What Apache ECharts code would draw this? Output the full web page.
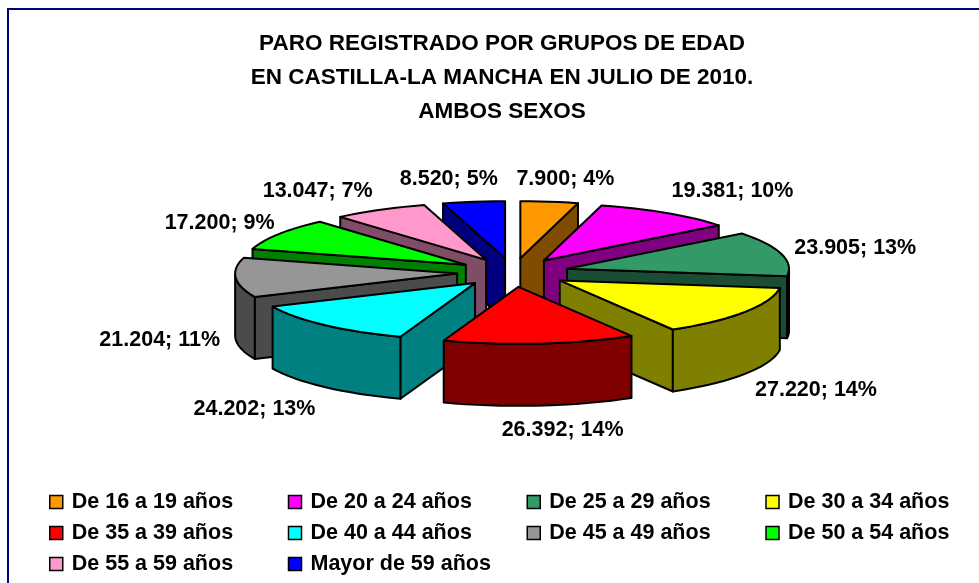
<!DOCTYPE html>
<html><head><meta charset="utf-8">
<style>html,body{margin:0;padding:0;background:#fff}#c{width:979px;height:583px}</style>
<script src="https://cdn.jsdelivr.net/npm/echarts@6/dist/echarts.min.js"></script>
</head><body><div id="c"></div>
<script>
const categories = ['De 16 a 19 años','De 20 a 24 años','De 25 a 29 años','De 30 a 34 años','De 35 a 39 años','De 40 a 44 años','De 45 a 49 años','De 50 a 54 años','De 55 a 59 años','Mayor de 59 años'];
const values = [7900,19381,23905,27220,26392,24202,21204,17200,13047,8520];
const percentLabels = ['4%','10%','13%','14%','14%','13%','11%','9%','7%','5%'];
const colors = ['#FF9900','#FF00FF','#339966','#FFFF00','#FF0000','#00FFFF','#969696','#00FF00','#FF99CC','#0000FF'];
const labelNudges = [[16,-23],[66,-22],[74,-6],[71,78],[23,86],[-70,84],[-76,63],[-59,-11],[-62,-19],[-25,-23]];

const CX=513, CY=272.5, R=222, TILT=0.257, EXPLODE=56, DEPTH=62, STEP=3;
const total = values.reduce((a,b)=>a+b,0);
const rad = d => d*Math.PI/180;
const proj = (ox,oy,r,deg) => [ox + r*Math.sin(rad(deg)), oy - r*TILT*Math.cos(rad(deg))];
function shade(hex){
  const n=parseInt(hex.slice(1),16);
  const c=[n>>16&255,n>>8&255,n&255].map(v=>Math.round(v/2));
  return `rgb(${c[0]},${c[1]},${c[2]})`;
}
function fmtThousands(v){ return String(v).replace(/\B(?=(\d{3})+$)/g,'.'); }
let cum=0;
const slices = values.map((v,i)=>{
  const a0=cum/total*360; cum+=v; const a1=cum/total*360;
  return {i,a0,a1,mid:(a0+a1)/2};
});
function arc(ox,oy,a0,a1){
  const pts=[]; const n=Math.max(1,Math.ceil((a1-a0)/STEP));
  for(let k=0;k<=n;k++) pts.push(proj(ox,oy,R,a0+(a1-a0)*k/n));
  return pts;
}
const LINE={stroke:'#000',lineWidth:2,lineJoin:'round'};
function sliceRender(s){
  return function(){
    const color=colors[s.i], dark=shade(color);
    const [ax,ay]=proj(CX,CY,EXPLODE,s.mid);
    const down=p=>[p[0],p[1]+DEPTH];
    const children=[];
    const poly=(points,fill)=>children.push({type:'polygon',shape:{points},style:Object.assign({fill},LINE),silent:true});
    const radial=deg=>{const e=proj(ax,ay,R,deg);poly([[ax,ay],e,down(e),[ax,ay+DEPTH]],dark);};
    if(s.a1<180) radial(s.a1);
    if(s.a0>=180) radial(s.a0);
    const r0=Math.max(s.a0,90), r1=Math.min(s.a1,270);
    if(r1>r0){const t=arc(ax,ay,r0,r1);poly(t.concat(t.map(down).reverse()),dark);}
    poly([[ax,ay]].concat(arc(ax,ay,s.a0,s.a1)),color);
    const rim=proj(CX,CY,EXPLODE+R,s.mid);
    children.push({type:'text',silent:true,style:{
      text:fmtThousands(values[s.i])+'; '+percentLabels[s.i],
      x:rim[0]+labelNudges[s.i][0],y:rim[1]+labelNudges[s.i][1],
      align:'center',verticalAlign:'middle',
      font:'bold 21.5px "Liberation Sans", Arial, sans-serif',fill:'#000'}});
    return {type:'group',children};
  };
}
// paint from the back of the pie to the front
const order=slices.slice().sort((p,q)=>Math.cos(rad(q.mid))-Math.cos(rad(p.mid)));
const series=order.map(s=>({
  type:'custom',name:categories[s.i],coordinateSystem:'none',
  itemStyle:{color:colors[s.i]},
  data:[[values[s.i]]],renderItem:sliceRender(s),animation:false,silent:true
}));
const chart=echarts.init(document.getElementById('c'),null,{renderer:'canvas'});
chart.setOption({
  animation:false,
  backgroundColor:'#fff',
  title:{text:'PARO REGISTRADO POR GRUPOS DE EDAD\nEN CASTILLA-LA MANCHA EN JULIO DE 2010.\nAMBOS SEXOS',
    left:497,top:22,textAlign:'center',
    textStyle:{fontFamily:'"Liberation Sans", Arial, sans-serif',fontWeight:'bold',fontSize:22.5,lineHeight:34,color:'#000'}},
  legend:{data:categories,left:49,top:490,width:960,orient:'horizontal',selectedMode:false,padding:0,
    icon:'rect',itemWidth:13,itemHeight:13,itemGap:7,
    itemStyle:{borderColor:'#000',borderWidth:1.5},
    textStyle:{fontFamily:'"Liberation Sans", Arial, sans-serif',fontWeight:'bold',fontSize:21.5,color:'#000',width:209,height:24,lineHeight:24,padding:[0,0,0,4],overflow:'none'}},
  graphic:[{type:'polyline',silent:true,z:-1,shape:{points:[[8,590],[8,9],[985,9]]},style:{stroke:'#000080',lineWidth:2,fill:null}}],
  series
});
</script></body></html>
